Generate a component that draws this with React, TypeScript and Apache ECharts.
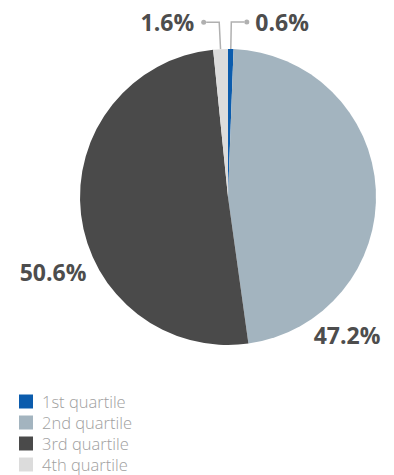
import React, { useEffect, useRef } from "react";
import * as echarts from "echarts";

const categories = ["1st quartile", "2nd quartile", "3rd quartile", "4th quartile"];
const values = [0.6, 47.2, 50.6, 1.6];
const colors = ["#0b5cad", "#a3b4bf", "#4a4a4a", "#dcdcdc"];

export default function App() {
  const ref = useRef<HTMLDivElement>(null);
  useEffect(() => {
    document.body.style.margin = "0";
    const chart = echarts.init(ref.current!, null, { renderer: "svg" });
    const labelColor = "#4d4d4d";
    const lineColor = "#b0b0b0";
    const data = categories.map((name, i) => {
      const small = values[i] < 5;
      return {
        name,
        value: values[i],
        itemStyle: { color: colors[i] },
        labelLine: { show: small },
        label: small ? {} : { position: "inside", overflow: "none" },
      };
    });
    chart.setOption({
      animation: false,
      textStyle: { fontFamily: "Open Sans" },
      legend: {
        orient: "vertical",
        left: 19,
        top: 393,
        height: 82,
        padding: 0,
        icon: "rect",
        itemWidth: 14,
        itemHeight: 14,
        itemGap: 4,
        textStyle: {
          fontSize: 16.5,
          lineHeight: 17,
          color: "#a0a0a0",
          fontFamily: "Open Sans",
          fontWeight: 300,
          padding: [0, 0, 0, 4],
        },
        data: categories,
      },
      series: [
        {
          type: "pie",
          center: [228, 197],
          radius: [0, 148],
          startAngle: 90,
          clockwise: true,
          data,
          label: {
            show: true,
            position: "outside",
            distanceToLabelLine: 0,
            formatter: (p: any) => {
              if (p.dataIndex === 0) return `{dot|}{tl|${p.value}%}`;
              if (p.dataIndex === 3) return `{tr|${p.value}%}{dot|}`;
              return `{t|${p.value}%}`;
            },
            rich: {
              t: { fontSize: 23, fontWeight: "bold", color: labelColor, fontFamily: "Open Sans" },
              tl: { fontSize: 23, fontWeight: "bold", color: labelColor, fontFamily: "Open Sans", padding: [0, 0, 0, 6], verticalAlign: "middle" },
              tr: { fontSize: 23, fontWeight: "bold", color: labelColor, fontFamily: "Open Sans", padding: [0, 7, 0, 0], verticalAlign: "middle" },
              dot: { width: 5, height: 5, borderRadius: 2.5, backgroundColor: lineColor, verticalAlign: "middle" },
            },
          },
          labelLine: {
            length: 27,
            length2: 13,
            lineStyle: { color: lineColor, width: 1.5 },
          },
          labelLayout: (p: any) => {
            if (p.dataIndex === 1) return { x: 347, y: 335, align: "center", verticalAlign: "middle" };
            if (p.dataIndex === 2) return { x: 53, y: 272, align: "center", verticalAlign: "middle" };
            return {};
          },
        },
      ],
    });
    return () => chart.dispose();
  }, []);
  return <div ref={ref} style={{ width: 394, height: 475 }} />;
}
